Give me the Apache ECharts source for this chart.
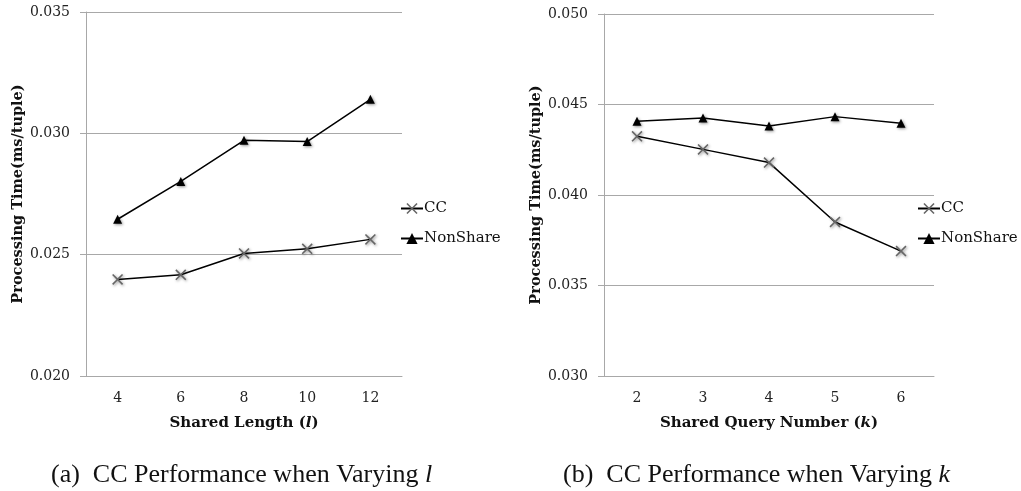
<!DOCTYPE html>
<html>
<head>
<meta charset="utf-8">
<script src="https://cdn.jsdelivr.net/npm/echarts@6/dist/echarts.min.js"></script>
<style>
  html, body { margin: 0; padding: 0; background: #fff; }
  #chart { width: 1021px; height: 491px; }
</style>
</head>
<body>
<div id="chart"></div>
<script>
// (a) varying shared length l
const lengthCats = ['4', '6', '8', '10', '12']
const ccByLength = [0.02398, 0.02417, 0.02505, 0.02524, 0.02563]
const nonShareByLength = [0.02646, 0.02802, 0.02971, 0.02966, 0.0314]
// (b) varying shared query number k
const queryCats = ['2', '3', '4', '5', '6']
const ccByQuery = [0.04324, 0.04252, 0.04179, 0.03851, 0.0369]
const nonShareByQuery = [0.04407, 0.04425, 0.04381, 0.04433, 0.04396]

const serif = 'DejaVu Serif'
const gridColor = '#a8a8a8'
// X drawn as a thin filled polygon so it can be used as a symbol
const crossSymbol = 'path://M0,1L1,0L5,4L9,0L10,1L6,5L10,9L9,10L5,6L1,10L0,9L4,5Z'

const chart = echarts.init(document.getElementById('chart'), null, { renderer: 'canvas' })

function xAxisOf(idx, cats, label, italic) {
    return {
        type: 'category',
        gridIndex: idx,
        data: cats,
        boundaryGap: true,
        name: label + ' ({i|' + italic + '})',
        nameLocation: 'middle',
        nameGap: 40,
        nameTextStyle: {
            fontFamily: serif, fontWeight: 'bold', fontSize: 15, color: '#111',
            rich: { i: { fontFamily: serif, fontWeight: 'bold', fontStyle: 'italic', fontSize: 15, color: '#111' } }
        },
        axisLine: { show: true, lineStyle: { color: gridColor, width: 1 } },
        axisTick: { show: false },
        axisLabel: { margin: 15, fontFamily: serif, fontSize: 14, color: '#222' },
        splitLine: { show: false }
    }
}

function yAxisOf(idx, min, max) {
    return {
        type: 'value',
        gridIndex: idx,
        min: min,
        max: max,
        interval: 0.005,
        name: 'Processing Time(ms/tuple)',
        nameLocation: 'middle',
        nameGap: 60,
        nameTextStyle: { fontFamily: serif, fontWeight: 'bold', fontSize: 14.5, color: '#111' },
        axisLine: { show: true, lineStyle: { color: gridColor, width: 1 } },
        axisTick: { show: true, length: 6, lineStyle: { color: gridColor } },
        axisLabel: {
            margin: 16, fontFamily: serif, fontSize: 14, color: '#222',
            formatter: v => v.toFixed(3)
        },
        splitLine: { show: true, lineStyle: { color: gridColor, width: 1 } }
    }
}

const markShadow = {
    shadowBlur: 3,
    shadowColor: 'rgba(0,0,0,0.45)',
    shadowOffsetX: 1,
    shadowOffsetY: 1
}

function seriesOf(idx, cc, nonShare) {
    return [{
        name: 'CC',
        type: 'line',
        xAxisIndex: idx,
        yAxisIndex: idx,
        data: cc,
        symbol: crossSymbol,
        symbolSize: 11,
        lineStyle: { color: '#000', width: 1.5 },
        itemStyle: Object.assign({ color: '#666' }, markShadow),
        animation: false
    }, {
        name: 'NonShare',
        type: 'line',
        xAxisIndex: idx,
        yAxisIndex: idx,
        data: nonShare,
        symbol: 'triangle',
        symbolSize: 9,
        lineStyle: { color: '#000', width: 1.5 },
        itemStyle: Object.assign({ color: '#000' }, markShadow),
        animation: false
    }]
}

function legendOf(left) {
    return {
        orient: 'vertical',
        left: left,
        top: 201,
        padding: 0,
        itemWidth: 22,
        itemHeight: 14,
        itemGap: 15,
        data: ['CC', 'NonShare'],
        textStyle: { fontFamily: serif, fontSize: 15, color: '#111', padding: [0, 0, 0, -4] },
        selectedMode: false
    }
}

const captionStyle = {
    fontFamily: 'Liberation Serif', fontWeight: 'normal', fontSize: 26, color: '#111',
    rich: { i: { fontFamily: 'Liberation Serif', fontStyle: 'italic', fontSize: 26, color: '#111' } }
}

const option = {
    backgroundColor: '#fff',
    animation: false,
    title: [{
        text: '(a)  CC Performance when Varying {i|l}',
        left: 51,
        top: 462,
        padding: 0,
        textStyle: captionStyle
    }, {
        text: '(b)  CC Performance when Varying {i|k}',
        left: 563,
        top: 462,
        padding: 0,
        textStyle: captionStyle
    }],
    legend: [legendOf(400), legendOf(917)],
    grid: [
        { left: 86, top: 12, width: 316, height: 364 },
        { left: 604, top: 14, width: 330, height: 362 }
    ],
    xAxis: [
        xAxisOf(0, lengthCats, 'Shared Length', 'l'),
        xAxisOf(1, queryCats, 'Shared Query Number', 'k')
    ],
    yAxis: [
        yAxisOf(0, 0.020, 0.035),
        yAxisOf(1, 0.030, 0.050)
    ],
    series: seriesOf(0, ccByLength, nonShareByLength).concat(seriesOf(1, ccByQuery, nonShareByQuery))
}

chart.setOption(option)
</script>
</body>
</html>
